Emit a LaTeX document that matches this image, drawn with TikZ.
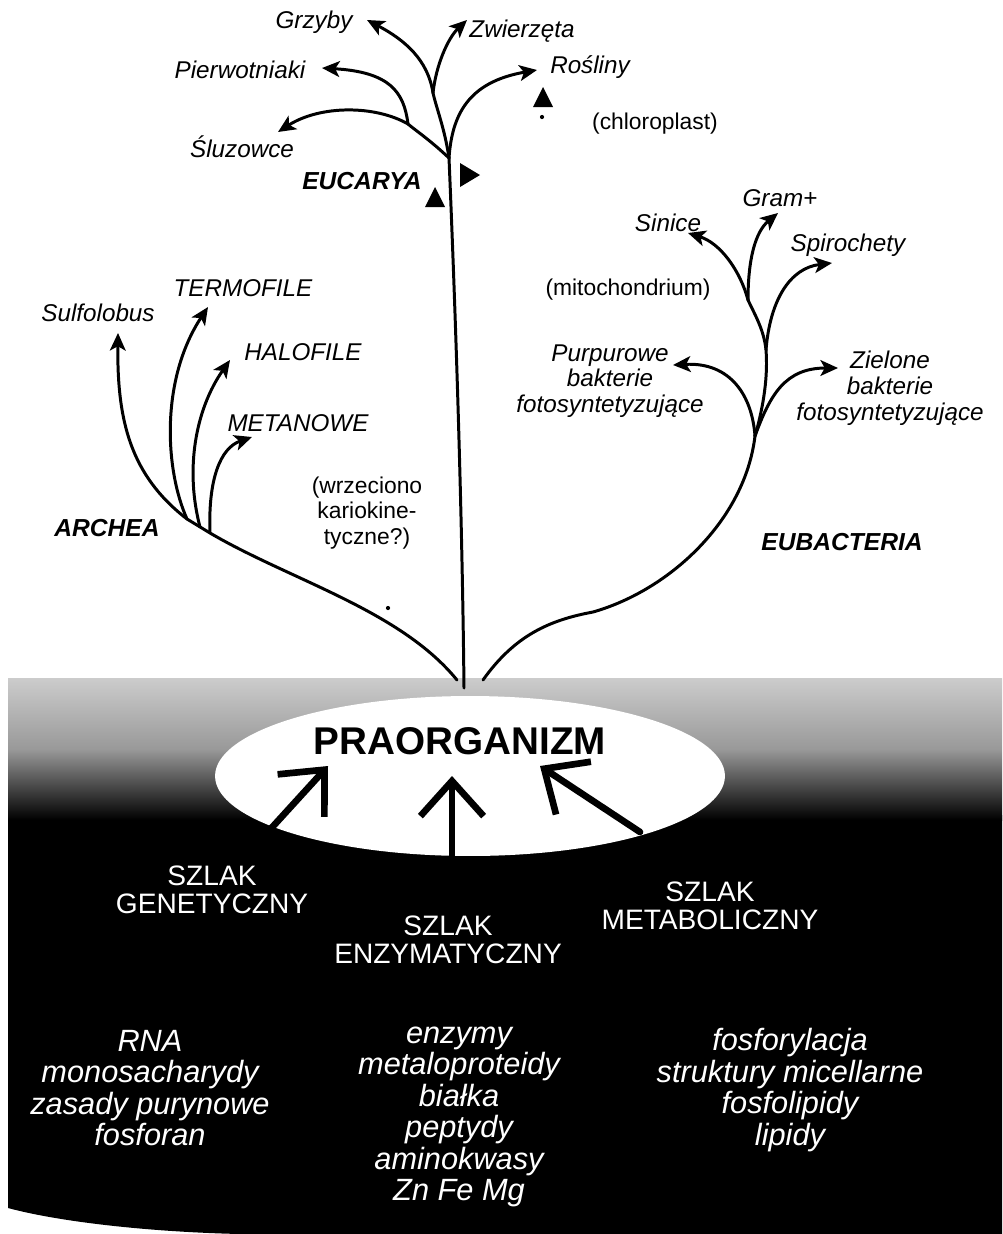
\documentclass[tikz,border=0pt]{standalone}
\usepackage{fontspec}
\setmainfont{Liberation Sans}
\usetikzlibrary{arrows.meta}
\begin{document}
\begin{tikzpicture}[x=0.02cm,y=-0.02cm,line join=round,line cap=round,
  >={Stealth[length=10pt,width=9pt,inset=2.5pt]},
  branch/.style={line width=1.7pt},
  flow/.style={line width=3.8pt,-{Straight Barb[length=20pt,width=36pt]}},
  taxon/.style={inner sep=0pt,font=\fontsize{13.8}{14.7}\selectfont\itshape,align=center},
  kingdom/.style={inner sep=0pt,font=\fontsize{14}{16}\selectfont\bfseries\itshape},
  organelle/.style={inner sep=0pt,font=\fontsize{13}{14.5}\selectfont,align=center},
  route/.style={inner sep=0pt,text=white,font=\fontsize{16}{16}\selectfont,align=center},
  compound/.style={inner sep=0pt,text=white,font=\fontsize{17.5}{17.9}\selectfont\itshape,align=center}]
\useasboundingbox (0,0) rectangle (1002,1234);
% podloze
\fill[black] (8,815) -- (8,1208) .. controls (60,1222) and (150,1232) .. (240,1234) -- (1002,1234) -- (1002,815) -- cycle;
\shade[top color=gray!40,bottom color=black,middle color=gray!80] (8,678) rectangle (1002,820);
\fill[white] (470,776) ellipse [x radius=5.1cm,y radius=1.6cm];
\node[inner sep=0pt,font=\fontsize{22}{24}\selectfont\bfseries] (pra) at (460,741) {PRAORGANIZM};
\path
(266,834) coordinate (gen0) (328,766) coordinate (gen1)
(452,872) coordinate (enz0) (452,776) coordinate (enz1)
(640,832) coordinate (mtb0) (540,766) coordinate (mtb1)
;
\foreach \a in {gen,enz,mtb}
\draw[flow] (\a0) -- (\a1);
\node[route] (gen) at (212,890) {SZLAK\\GENETYCZNY};
\node[route] (enz) at (448,940) {SZLAK\\ENZYMATYCZNY};
\node[route] (mtb) at (710,906) {SZLAK\\METABOLICZNY};
\node[compound] (rna) at (150,1088) {RNA\\monosacharydy\\zasady purynowe\\fosforan};
\node[compound] (enzy) at (459,1117) {enzymy\\metaloproteidy\\białka\\peptydy\\aminokwasy\\Zn Fe Mg};
\node[compound] (fosf) at (790,1090) {fosforylacja\\struktury micellarne\\fosfolipidy\\lipidy};
% drzewo
\path
(464,688) coordinate (root)
(449,158) coordinate (euc)
(433,93) coordinate (gz)
(408,124) coordinate (pw)
(367,20) coordinate (tGrz)
(467,20) coordinate (tZwi)
(322,68) coordinate (tPie)
(537,70) coordinate (tRos)
(278,132) coordinate (tSlu)
(457,680) coordinate (arc0)
(210,533) coordinate (arc1)
(200,527) coordinate (arc2)
(187,519) coordinate (arc3)
(118,333) coordinate (tSul)
(208,307) coordinate (tTer)
(230,360) coordinate (tHal)
(252,437) coordinate (tMet)
(483,680) coordinate (eub0)
(755,436) coordinate (eub1)
(766,350) coordinate (eub2)
(748,300) coordinate (eub3)
(673,365) coordinate (tPur)
(838,368) coordinate (tZie)
(832,263) coordinate (tSpi)
(778,213) coordinate (tGra)
(688,233) coordinate (tSin)
;
\draw[branch] (root) .. controls (462,500) and (455,300) .. (euc);
\draw[branch] (euc) .. controls (445,130) and (437,110) .. (gz);
\draw[branch,->] (gz) .. controls (428,60) and (405,40) .. (tGrz);
\draw[branch,->] (gz) .. controls (436,65) and (448,38) .. (tZwi);
\draw[branch] (euc) .. controls (430,140) and (415,130) .. (pw);
\draw[branch,->] (pw) .. controls (375,105) and (320,105) .. (tSlu);
\draw[branch,->] (pw) .. controls (404,92) and (390,72) .. (tPie);
\draw[branch,->] (euc) .. controls (452,115) and (468,82) .. (tRos);
\draw[branch,->] (arc0) .. controls (400,610) and (290,580) .. (arc1) -- (arc3) .. controls (130,475) and (117,420) .. (tSul);
\draw[branch,->] (arc3) .. controls (165,470) and (160,380) .. (tTer);
\draw[branch,->] (arc2) .. controls (185,470) and (195,410) .. (tHal);
\draw[branch,->] (arc1) .. controls (208,480) and (220,448) .. (tMet);
\draw[branch] (eub0) .. controls (515,635) and (550,620) .. (593,612) .. controls (670,590) and (745,520) .. (eub1);
\draw[branch] (eub1) .. controls (764,405) and (768,375) .. (eub2) .. controls (764,330) and (755,315) .. (eub3);
\draw[branch,->] (eub1) .. controls (752,395) and (730,362) .. (tPur);
\draw[branch,->] (eub1) .. controls (770,395) and (785,368) .. (tZie);
\draw[branch,->] (eub2) .. controls (770,300) and (790,268) .. (tSpi);
\draw[branch,->] (eub3) .. controls (748,260) and (755,232) .. (tGra);
\draw[branch,->] (eub3) .. controls (740,270) and (720,243) .. (tSin);
\fill (425,207) -- (445,207) -- (435,187) -- cycle;
\fill (460,163) -- (480,175) -- (460,187) -- cycle;
\fill (533,107) -- (553,107) -- (543,87) -- cycle;
\fill (542,117) circle (1.2pt) (388,608) circle (1.2pt);
\foreach \n/\x/\y/\txt in {grz/314/22/Grzyby, zwi/522/31/Zwierzęta, pie/240/70/Pierwotniaki,
  ros/590/67/Rośliny, slu/242/147/Śluzowce, sul/98/313/Sulfolobus, ter/243/288/TERMOFILE,
  hal/303/352/HALOFILE, met/298/423/METANOWE, sin/668/223/Sinice, gra/780/198/Gram+,
  spi/848/245/Spirochety}
\node[taxon] (\n) at (\x,\y) {\txt};
\node[taxon] (pur) at (610,381) {Purpurowe\\bakterie\\fotosyntetyzujące};
\node[taxon] (zie) at (890,388) {Zielone\\bakterie\\fotosyntetyzujące};
\node[kingdom] (eucarya) at (362,181) {EUCARYA};
\node[kingdom] (archea) at (107,528) {ARCHEA};
\node[kingdom] (eubacteria) at (842,542) {EUBACTERIA};
\node[organelle] (chl) at (655,124) {(chloroplast)};
\node[organelle] (mit) at (628,290) {(mitochondrium)};
\node[organelle] (wrz) at (367,513) {(wrzeciono\\kariokine-\\tyczne?)};
\end{tikzpicture}
\end{document}
